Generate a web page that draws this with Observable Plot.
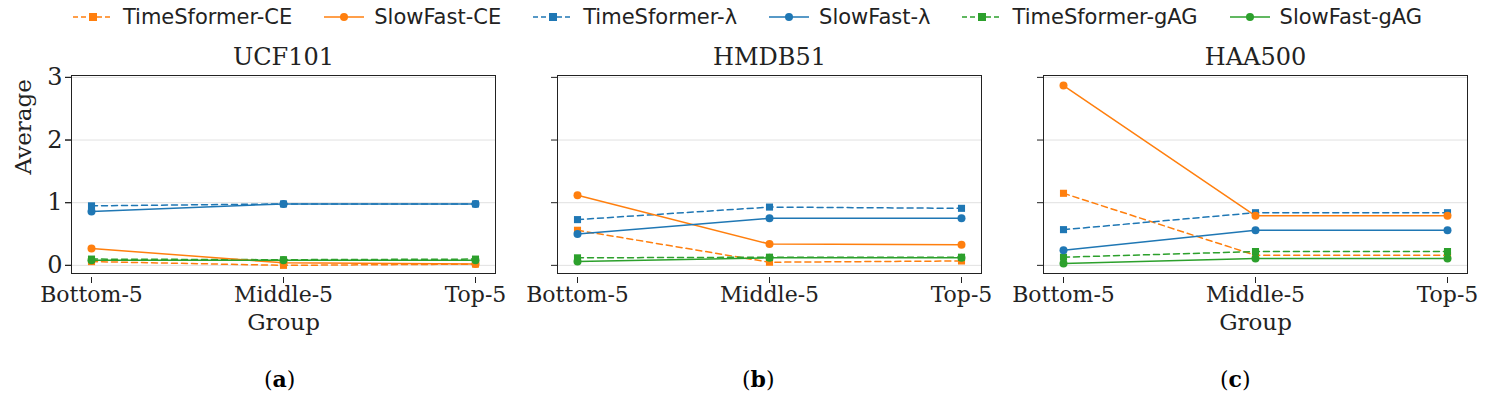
<!DOCTYPE html>
<html><head><meta charset="utf-8">
<script src="https://cdn.jsdelivr.net/npm/d3@7"></script>
<script src="https://cdn.jsdelivr.net/npm/@observablehq/plot@0.6"></script>
<style>
body{margin:0;background:#fff;width:1493px;height:403px;overflow:hidden}
#legend{position:absolute;top:5px;left:0;width:1493px;display:flex;justify-content:center;gap:30px;font:21px "DejaVu Sans";color:#222}
#legend span{display:flex;align-items:center;gap:8px}
#chart{position:absolute;top:35px;left:0}
.cap{position:absolute;top:366px;font:22px "DejaVu Serif";}
</style></head><body>
<div id="legend"></div><div id="chart"></div>
<div class="cap" style="left:264px">(<b>a</b>)</div>
<div class="cap" style="left:742px">(<b>b</b>)</div>
<div class="cap" style="left:1220px">(<b>c</b>)</div>
<script>
const datasets = ["UCF101","HMDB51","HAA500"];
const groups = ["Bottom-5","Middle-5","Top-5"];
const seriesNames = ["TimeSformer-CE","SlowFast-CE","TimeSformer-λ","SlowFast-λ","TimeSformer-gAG","SlowFast-gAG"];
const seriesColors = ["#ff7f0e","#ff7f0e","#1f77b4","#1f77b4","#2ca02c","#2ca02c"];
// values[dataset][series] = [Bottom, Middle, Top]
const ucf101 = [[0.06,0.00,0.02],[0.27,0.04,0.02],[0.95,0.98,0.98],[0.86,0.98,0.98],[0.10,0.09,0.10],[0.08,0.08,0.08]];
const hmdb51 = [[0.56,0.05,0.07],[1.12,0.34,0.33],[0.73,0.93,0.91],[0.50,0.75,0.75],[0.12,0.13,0.13],[0.06,0.12,0.12]];
const haa500 = [[1.15,0.16,0.16],[2.87,0.79,0.79],[0.57,0.84,0.84],[0.24,0.56,0.56],[0.13,0.22,0.22],[0.03,0.11,0.11]];
const yTicks = [0,1,2,3];

const all = [ucf101,hmdb51,haa500];
const rows = [];
all.forEach((vals,di)=>vals.forEach((s,si)=>s.forEach((v,gi)=>rows.push({
  ds:datasets[di], series:seriesNames[si], group:groups[gi], value:v, dashed: si%2===0
}))));

const leg = document.getElementById("legend");
seriesNames.forEach((n,i)=>{
  const dash = i%2===0;
  const mk = dash ? `<rect x="18" y="5" width="8" height="8" fill="${seriesColors[i]}"/>` : `<circle cx="22" cy="9" r="4" fill="${seriesColors[i]}"/>`;
  leg.innerHTML += `<span><svg width="44" height="18"><line x1="2" x2="42" y1="9" y2="9" stroke="${seriesColors[i]}" stroke-width="1.5" ${dash?'stroke-dasharray="5,3"':''}/>${mk}</svg>${n}</span>`;
});

const color = {domain:seriesNames, range:seriesColors};
const ts = rows.filter(d=>d.dashed), sf = rows.filter(d=>!d.dashed);
const plot = Plot.plot({
  width:1493, height:308, marginLeft:70, marginRight:24, marginTop:40, marginBottom:70,
  style:{fontFamily:"DejaVu Serif", fontSize:"20px", color:"#222"},
  fx:{domain:datasets, padding:0.127, label:null},
  x:{domain:groups, padding:0.1, label:null},
  y:{domain:[-0.13,3.03], label:null},
  color,
  marks:[
    Plot.gridY(yTicks,{stroke:"#ccc", strokeOpacity:0.6}),
    Plot.axisFx({anchor:"top", fontSize:24, tickSize:0, dy:-2}),
    Plot.axisY(yTicks,{anchor:"left", facetAnchor:"left", tickSize:6, fontSize:24, tickFormat:"d", label:null}),
    Plot.axisY(yTicks,{anchor:"left", facetAnchor:null, tickSize:6, text:null, label:null}),
    Plot.axisX({tickSize:6, fontSize:22, facetAnchor:null, dy:4}),
    Plot.text([{ds:"UCF101"},{ds:"HAA500"}],{fx:"ds", frameAnchor:"bottom", dy:56, text:()=>"Group", fontSize:23}),
    Plot.text([{ds:"UCF101"}],{fx:"ds", frameAnchor:"left", dx:-48, rotate:-90, text:()=>"Average", fontSize:23}),
    Plot.lineY(ts,{fx:"ds", x:"group", y:"value", z:"series", stroke:"series", strokeWidth:1.5, strokeDasharray:"6,4"}),
    Plot.lineY(sf,{fx:"ds", x:"group", y:"value", z:"series", stroke:"series", strokeWidth:1.5}),
    Plot.dot(ts,{fx:"ds", x:"group", y:"value", fill:"series", symbol:"square", r:4}),
    Plot.dot(sf,{fx:"ds", x:"group", y:"value", fill:"series", symbol:"circle", r:4}),
    Plot.frame({stroke:"#222"})
  ]
});
document.getElementById("chart").appendChild(plot);
</script></body></html>
